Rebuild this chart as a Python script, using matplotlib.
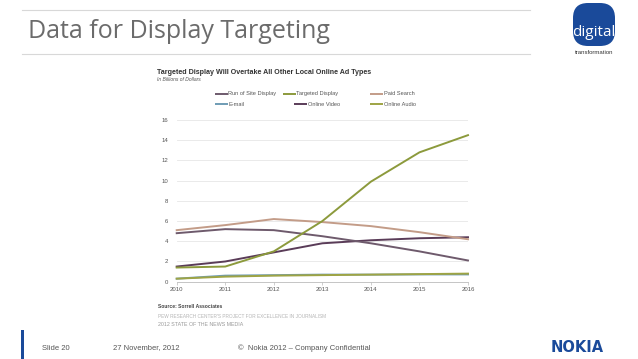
import matplotlib
matplotlib.use("Agg")
import matplotlib.pyplot as plt
from matplotlib.patches import FancyBboxPatch, Rectangle

years = [2010, 2011, 2012, 2013, 2014, 2015, 2016]
series_names = ["Run of Site Display", "Targeted Display", "Paid Search",
                "E-mail", "Online Video", "Online Audio"]
run_of_site = [4.8, 5.2, 5.1, 4.5, 3.8, 3.0, 2.1]
targeted = [1.4, 1.5, 3.0, 6.0, 9.9, 12.8, 14.5]
paid_search = [5.1, 5.6, 6.2, 5.9, 5.5, 4.9, 4.2]
email = [0.3, 0.6, 0.65, 0.7, 0.7, 0.72, 0.72]
online_video = [1.5, 2.0, 2.9, 3.8, 4.1, 4.3, 4.4]
online_audio = [0.3, 0.5, 0.6, 0.65, 0.7, 0.75, 0.8]
y_ticks = [0, 2, 4, 6, 8, 10, 12, 14, 16]

values = [run_of_site, targeted, paid_search, email, online_video, online_audio]
colors = ["#6e5a6c", "#8c9a3c", "#c39c88", "#6f9cb4", "#5a3c58", "#9ea444"]

W, H = 638, 359
fig = plt.figure(figsize=(W / 100, H / 100), dpi=100)
fig.patch.set_facecolor("white")

# overlay axes in pixel coordinates
ov = fig.add_axes([0, 0, 1, 1])
ov.set_xlim(0, W)
ov.set_ylim(H, 0)
ov.axis("off")

# header lines and title
ov.plot([22, 530], [9.5, 9.5], color="#d8d8d8", lw=0.8)
ov.plot([22, 530], [54, 54], color="#d8d8d8", lw=0.8)
ov.text(28, 32, "Data for Display Targeting", family="Open Sans", fontsize=18,
        color="#6b6b6b", va="center", ha="left")

# digital logo
logo = FancyBboxPatch((576, 6), 36, 37, boxstyle="round,pad=3,rounding_size=15",
                      fc="#1a4a9a", ec="none")
ov.add_patch(logo)
ov.text(594, 33, "digital", family="Open Sans", fontsize=11, color="white",
        ha="center", va="center")
ov.text(594, 53, "transformation", family="Liberation Sans", fontsize=4.3,
        color="#333333", ha="center", va="center")

# chart title and subtitle
ov.text(157, 72, "Targeted Display Will Overtake All Other Local Online Ad Types",
        family="Liberation Sans", fontsize=5.1, fontweight="bold", color="#333333",
        ha="left", va="center")
ov.text(157, 79.5, "In Billions of Dollars", family="Liberation Sans", fontsize=3.6,
        style="italic", color="#555555", ha="left", va="center")

# legend (manual)
leg_pos = [(215, 93.5), (283, 93.5), (370, 93.5), (215, 104), (294, 104), (370, 104)]
for (lx, ly), name, c in zip(leg_pos, series_names, colors):
    ov.plot([lx, lx + 13], [ly, ly], color=c, lw=1.4, solid_capstyle="butt")
    ov.text(lx + 13.5, ly, name, family="Liberation Sans", fontsize=4.1,
            color="#555555", ha="left", va="center")

# source texts
ov.text(158, 307, "Source: Sorrell Associates", family="Liberation Sans", fontsize=3.6,
        fontweight="bold", color="#444444", ha="left", va="center")
ov.text(158, 316, "PEW RESEARCH CENTER'S PROJECT FOR EXCELLENCE IN JOURNALISM",
        family="Liberation Sans", fontsize=3.4, color="#b5b5b5", ha="left", va="center")
ov.text(158, 324, "2012 STATE OF THE NEWS MEDIA", family="Liberation Sans",
        fontsize=3.8, color="#999999", ha="left", va="center")

# footer
ov.add_patch(Rectangle((21, 330), 3, 29, fc="#1a4a9a", ec="none"))
ov.text(42, 348, "Slide 20", family="Liberation Sans", fontsize=5.5,
        color="#555555", ha="left", va="center")
ov.text(113, 348, "27 November, 2012", family="Liberation Sans", fontsize=5.5,
        color="#555555", ha="left", va="center")
ov.text(238, 348, "\u00a9  Nokia 2012 \u2013 Company Confidential", family="Liberation Sans",
        fontsize=5.5, color="#555555", ha="left", va="center")
ov.text(577, 347, "NOKIA", family="DejaVu Sans", fontsize=10.5, fontweight="bold",
        color="#1a4a9a", ha="center", va="center")

# chart axes
x0, x1 = 176.7, 468.0
y0, y1 = 281.7, 120.0
ax = fig.add_axes([x0 / W, 1 - y0 / H, (x1 - x0) / W, (y0 - y1) / H])
ax.set_facecolor("none")
ax.set_xlim(years[0], years[-1])
ax.set_ylim(0, 16)
ax.set_yticks(y_ticks)
ax.set_xticks(years)
ax.set_xticklabels([str(y) for y in years])
for t in y_ticks[1:]:
    ax.axhline(t, color="#e6e6e6", lw=0.6, zorder=0)
for s in ["top", "right", "left"]:
    ax.spines[s].set_visible(False)
ax.spines["bottom"].set_color("#bbbbbb")
ax.spines["bottom"].set_linewidth(0.6)
ax.tick_params(axis="x", length=2, width=0.5, color="#bbbbbb", labelsize=4.3,
               labelcolor="#555555", pad=2)
ax.tick_params(axis="y", length=0, labelsize=4.3, labelcolor="#555555", pad=6)
for lab in ax.get_xticklabels() + ax.get_yticklabels():
    lab.set_family("Liberation Sans")

order = [3, 5, 4, 0, 2, 1]
for i in order:
    ax.plot(years, values[i], color=colors[i], lw=1.4, clip_on=False,
            solid_joinstyle="round")

fig.savefig("out.png", dpi=100, facecolor="white")
